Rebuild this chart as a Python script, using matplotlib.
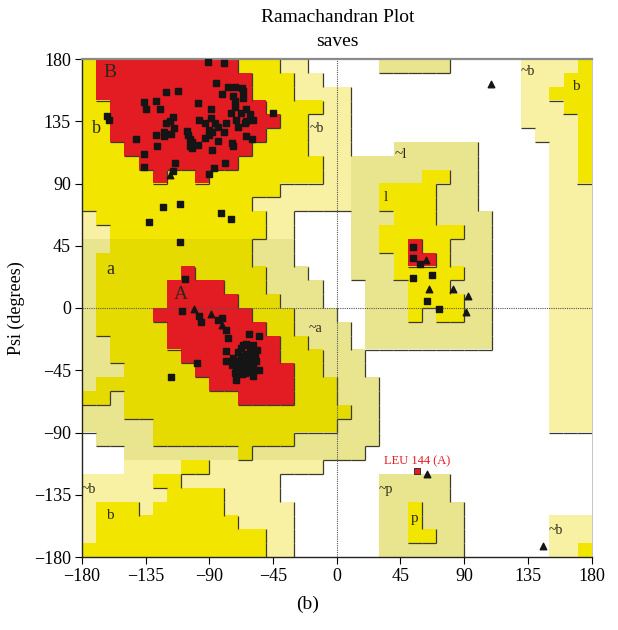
import numpy as np
import matplotlib
matplotlib.use('Agg')
import matplotlib.pyplot as plt
from matplotlib.colors import ListedColormap
from matplotlib.collections import LineCollection

plt.rcParams['font.family'] = ['Liberation Serif', 'DejaVu Serif']

# Region map in 10 degree cells, first row is psi 170..180, first column phi -180..-170.
# Run-length coded:  . disallowed, p / o generously allowed, Y / D allowed, R core
region_rows = [
    "Y1 R10 Y3 p2 .5 o5 .5 p4 Y1",
    "Y1 R11 Y3 p2 .14 p3 Y2",
    "Y1 R11 Y3 p4 .12 p2 Y3",
    "Y2 R11 Y4 p2 .12 p3 Y2",
    "Y2 R12 Y2 p3 .12 p4 Y1",
    "Y2 R11 Y3 p3 .13 p3 Y1",
    "Y3 R9 Y4 p3 .3 o6 .5 p2 Y1",
    "Y4 R7 Y6 p2 o9 .5 p2 Y1",
    "Y5 R1 Y2 R1 Y8 p2 o5 Y2 o2 .5 p2 Y1",
    "Y14 p5 o2 Y4 o3 .5 p3",
    "Y12 p7 o2 Y4 o3 .5 p3",
    "p1 Y12 p2 .4 o3 Y3 o4 .4 p3",
    "p2 Y11 p2 .4 o2 Y6 o2 .4 p3",
    "o2 D10 o3 .4 o2 Y2 R1 Y2 o3 .4 p3",
    "o1 D11 o3 .4 o3 Y1 R2 Y1 o3 .4 p3",
    "o1 D6 R1 D5 o3 .3 o3 Y5 o2 .4 p3",
    "o1 D5 R4 D3 o4 .3 o3 Y3 o3 .4 p3",
    "o1 D5 R5 D3 o3 .3 o3 Y4 o2 .4 p3",
    "o1 D4 R7 D3 o3 .2 o3 Y1 o1 Y2 o2 .4 p3",
    "o1 D5 R7 D2 o4 .1 o9 .4 p3",
    "o2 D4 R8 D2 o3 .1 o9 .4 p3",
    "o2 D5 R7 D3 o3 .13 p3",
    "o3 D5 R7 D2 o3 .13 p3",
    "o1 D8 R6 D3 o3 .12 p3",
    "D2 o1 D8 R4 D3 o3 .12 p3",
    "o3 D16 o2 .12 p3",
    "o5 D13 o3 .12 p3",
    ".1 o4 D10 o6 .15",
    ".3 o8 D1 o8 .16",
    ".3 p4 Y2 p8 .19",
    "p5 Y2 p7 .7 o5 .10",
    "p6 Y4 p4 .7 o5 .10",
    "p1 Y3 p1 Y5 p5 .6 o2 Y1 o3 .9",
    "p1 Y10 p4 .6 o2 Y1 o3 .6 p3",
    "p1 Y12 p2 .6 o2 Y2 o2 .6 p3",
    "Y13 p2 .6 o6 .6 p2 Y1",
]

# Residues (phi, psi)
square_phi = [-91, -80, -85, -77, -72, -67, -66, -121, -112, -81, -73, -66, -136, -128,
              -98, -89, -72, -64, -135, -125, -72, -75, -68, -61, -59, -64, -45, -71,
              -65, -78, -121, -118, -116, -97, -93, -89, -86, -84, -115, -117, -122, -122,
              -128, -106, -105, -104, -102, -104, -98, -102, -93, -90, -88, -90, -80, -84,
              -70, -74, -73, -64, -60, -88, -142, -127, -136, -136, -114, -79, -87, -90,
              -116, -162, -161,
              -123, -111, -133, -82, -75, -111,
              -107, -109, -97, -96, -81, -84, -78, -77, -78, -78, -62, -55, -64, -59,
              -56, -68, -99, -117, -71, -55, -59, -73, -71, -68, -66, -64, -61, -63,
              -67, -65, -60, -58, -71, -74, -61, -66, -59, -70, -66, -63, -69, -62,
              -57, -67, -72,
              54, 54, 59, 54, 67, 64, 72]
square_psi = [178, 177, 163, 160, 160, 159, 157, 156, 157, 155, 153, 152, 149, 150,
              148, 144, 150, 144, 144, 144, 145, 141, 141, 140, 136, 135, 141, 136,
              134, 134, 134, 135, 138, 136, 134, 137, 134, 131, 130, 126, 124, 127,
              125, 128, 125, 122, 120, 117, 118, 116, 123, 125, 127, 129, 127, 121,
              131, 119, 117, 124, 122, 114, 122, 117, 111, 102, 105, 105, 101, 97,
              99, 139, 136,
              73, 75, 62, 69, 64, 48,
              21, -2, -6, -10, -7, -9, -16, -22, -31, -38, -19, -20, -26, -27,
              -30, -29, -40, -50, -52, -45, -49, -36, -38, -35, -37, -33, -38, -42,
              -43, -47, -44, -35, -44, -41, -31, -27, -41, -32, -40, -36, -40, -46,
              -38, -48, -47,
              44, 36, 32, 22, 24, 5, -1]

tri_phi = [-101, -89, -81, -118, 63, 65, 82, 93, 91, 109, 146, 64]
tri_psi = [-1, -4, -12, 96, 35, 14, 14, 9, -3, 162, -172, -120]

flag_phi = [57]
flag_psi = [-118]
flag_name = 'LEU 144 (A)'

region_labels = ['B', 'b', 'A', 'a', '~b', '~l', 'l', '~b', 'b', '~a', '~p', 'p', '~b', '~b', 'b']
label_phi = [-160, -170, -110, -160, -14, 45, 35, 135, 169, -15, 35, 55, 155, -175, -160]
label_psi = [170, 130, 10, 28, 130, 111, 80, 171, 160, -15, -131, -152, -161, -131, -150]
label_size = [14, 13, 14, 13, 10, 11, 11, 10, 11, 10, 10, 11, 10, 10, 11]

# decode the map
codes = '.poYDR'
grid = []
for row in region_rows:
    cells = ''
    for run in row.split():
        cells += run[0] * int(run[1:])
    assert len(cells) == 36, row
    grid.append([codes.index(ch) for ch in cells])
grid = np.array(grid)
level = np.array([0, 1, 1, 2, 2, 3])[grid]

colors = ['#FFFFFF', '#F8F0A2', '#E9E58F', '#F2E600', '#E5DB00', '#E31B23']

fig = plt.figure(figsize=(6.18, 6.30), dpi=100)
ax = fig.add_axes([82 / 618, 73 / 630, 509.5 / 618, 498 / 630])

ax.imshow(grid, cmap=ListedColormap(colors), vmin=-0.5, vmax=5.5,
          extent=[-180, 180, -180, 180], origin='upper',
          interpolation='nearest', aspect='auto')

# shadow lines on the lower and right edges of each region
segs = []
for r in range(36):
    for c in range(36):
        top = 180 - 10 * r
        left = -180 + 10 * c
        if c < 35 and level[r, c] > level[r, c + 1]:
            segs.append([(left + 10, top - 10), (left + 10, top)])
        if r < 35 and level[r, c] > level[r + 1, c]:
            segs.append([(left, top - 10), (left + 10, top - 10)])
ax.add_collection(LineCollection(segs, colors='#3b3a2c', linewidths=0.9))

ax.axvline(0, color='#555555', ls=(0, (1, 1)), lw=0.8)
ax.axhline(0, color='#555555', ls=(0, (1, 1)), lw=0.8)

for txt, x, y, s in zip(region_labels, label_phi, label_psi, label_size):
    ax.text(x, y, txt, fontsize=s, color='#2a2a1a', ha='center', va='center')

ax.scatter(square_phi, square_psi, marker='s', s=20, color='#151515', zorder=5)
ax.scatter(tri_phi, tri_psi, marker='^', s=22, color='#151515', zorder=5)
ax.scatter(flag_phi, flag_psi, marker='s', s=22, color='#E31B23',
           edgecolors='#222222', linewidths=0.6, zorder=6)
ax.text(flag_phi[0], flag_psi[0] + 7, flag_name, fontsize=9, color='#E31B23',
        ha='center', va='center')

ax.set_xlim(-180, 180)
ax.set_ylim(-180, 180)
ax.set_xticks(range(-180, 181, 45))
ax.set_yticks(range(-180, 181, 45))
ax.tick_params(direction='out', length=5, width=0.8, labelsize=13, pad=3)
for side in ['left', 'bottom']:
    ax.spines[side].set_color('#222222')
    ax.spines[side].set_linewidth(1.0)
ax.spines['top'].set_color('#8a8a8a')
ax.spines['top'].set_linewidth(1.6)
ax.spines['right'].set_color('#bbbbbb')
ax.spines['right'].set_linewidth(0.6)

ax.set_ylabel('Psi (degrees)', fontsize=13, labelpad=6)
fig.text(0.5465, 0.972, 'Ramachandran Plot', fontsize=14, ha='center', va='center')
fig.text(0.5465, 0.934, 'saves', fontsize=14, ha='center', va='center')
fig.text(0.497, 0.040, '(b)', fontsize=14, ha='center', va='center')

fig.savefig('out.png', dpi=100)
